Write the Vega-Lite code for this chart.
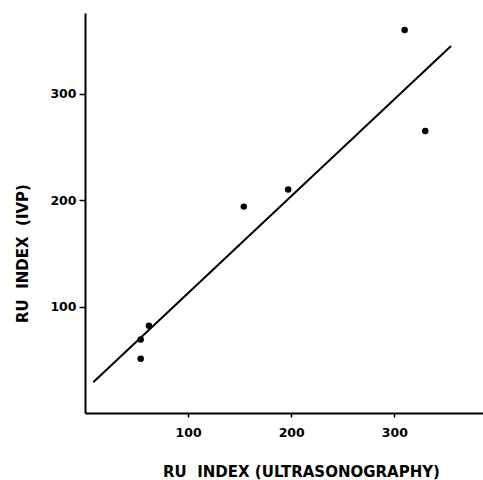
{
  "$schema": "https://vega.github.io/schema/vega-lite/v6.json",
  "autosize": "none",
  "width": 398,
  "height": 400,
  "padding": {"left": 85, "top": 13, "right": 0, "bottom": 67},
  "background": "white",
  "config": {
    "view": {"stroke": null},
    "axis": {
      "grid": false,
      "domainColor": "black",
      "domainWidth": 2,
      "tickColor": "black",
      "tickWidth": 1.5,
      "labelFont": "DejaVu Sans",
      "labelFontWeight": "bold",
      "labelFontSize": 12.5,
      "labelColor": "black",
      "titleFont": "DejaVu Sans",
      "titleFontWeight": "bold",
      "titleFontSize": 15,
      "titleColor": "black"
    }
  },
  "datasets": {
    "points": [
      {"us": 310, "ivp": 360},
      {"us": 330, "ivp": 265},
      {"us": 197, "ivp": 210},
      {"us": 154, "ivp": 194},
      {"us": 62, "ivp": 82},
      {"us": 54, "ivp": 69},
      {"us": 54, "ivp": 51}
    ],
    "fit": [
      {"us": 8, "ivp": 29},
      {"us": 355, "ivp": 345}
    ]
  },
  "layer": [
    {
      "data": {"name": "fit"},
      "mark": {"type": "line", "color": "black", "strokeWidth": 2},
      "encoding": {
        "x": {"field": "us", "type": "quantitative", "scale": {"domain": [0, 386], "nice": false, "zero": false},
          "axis": {"values": [100, 200, 300], "tickSize": 4, "labelPadding": 9,
            "title": "RU\u00a0\u00a0INDEX (ULTRASONOGRAPHY)", "titleX": 216, "titleY": 63, "titleAlign": "center", "titleBaseline": "alphabetic"}},
        "y": {"field": "ivp", "type": "quantitative", "scale": {"domain": [0, 376], "nice": false, "zero": false},
          "axis": {"values": [100, 200, 300], "tickSize": 6, "labelPadding": 3,
            "title": "RU\u00a0\u00a0INDEX\u00a0\u00a0(IVP)", "titleX": -58, "titleY": 240, "titleAngle": -90, "titleAlign": "center", "titleBaseline": "alphabetic"}}
      }
    },
    {
      "data": {"name": "points"},
      "mark": {"type": "point", "filled": true, "color": "black", "opacity": 1, "size": 42},
      "encoding": {
        "x": {"field": "us", "type": "quantitative"},
        "y": {"field": "ivp", "type": "quantitative"}
      }
    }
  ]
}
